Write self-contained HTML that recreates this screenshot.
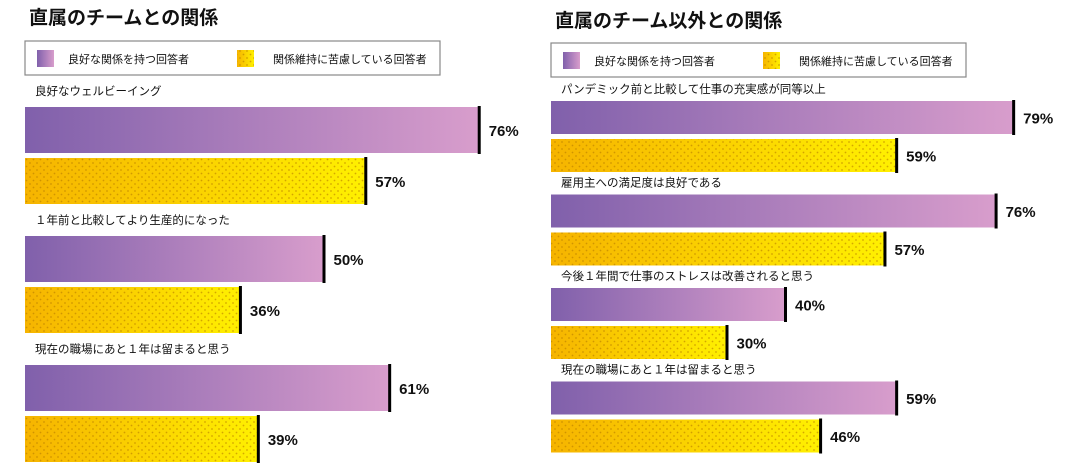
<!DOCTYPE html>
<html><head><meta charset="utf-8">
<style>
html,body{margin:0;padding:0;background:#fff;}
svg{display:block;font-family:"Liberation Sans","Noto Sans CJK JP",sans-serif;}
</style></head>
<body>
<svg id="c" width="1078" height="468" viewBox="0 0 1078 468">
<defs>
<linearGradient id="gp" x1="0" x2="1" y1="0" y2="0"><stop offset="0" stop-color="#8060ab"/><stop offset="1" stop-color="#d89dcc"/></linearGradient>
<linearGradient id="gy" x1="0" x2="1" y1="0" y2="0"><stop offset="0" stop-color="#f6b400"/><stop offset="1" stop-color="#fff000"/></linearGradient>
<pattern id="dots" width="7" height="7" patternUnits="userSpaceOnUse"><circle cx="2" cy="2" r="0.9" fill="#b87c00" opacity="0.6"/><circle cx="5.5" cy="5.5" r="0.9" fill="#b87c00" opacity="0.6"/></pattern>
</defs>
</svg>
<script>
const leftCats = ["良好なウェルビーイング","１年前と比較してより生産的になった","現在の職場にあと１年は留まると思う"];
const leftGood = [76,50,61];
const leftStruggle = [57,36,39];
const rightCats = ["パンデミック前と比較して仕事の充実感が同等以上","雇用主への満足度は良好である","今後１年間で仕事のストレスは改善されると思う","現在の職場にあと１年は留まると思う"];
const rightGood = [79,76,40,59];
const rightStruggle = [59,57,30,46];
const legendLabels = ["良好な関係を持つ回答者","関係維持に苦慮している回答者"];

const svg = document.getElementById('c');
const NS = 'http://www.w3.org/2000/svg';
function mk(tag, attrs, parent){const e=document.createElementNS(NS,tag);for(const k in attrs)e.setAttribute(k,attrs[k]);(parent||svg).appendChild(e);return e;}
function txt(x,y,s,size,weight,name){const t=mk('text',{x:x,y:y,'font-size':size,'font-weight':weight,fill:'#111'});t.textContent=s;


return t;}

function panel(cfg){
  const g = mk('g',{});
  
  
  txt(cfg.x0+4, cfg.titleY, cfg.title, 19, 'bold', 'chart-title');
  const lb = mk('rect',{x:cfg.x0, y:cfg.legY, width:415, height:34, fill:'#fff', stroke:'#888','stroke-width':1.2});
  
  
  const s1 = mk('rect',{x:cfg.x0+12,y:cfg.legY+9,width:17,height:17,fill:'url(#gp)'});
  
  
  txt(cfg.x0+43,cfg.legY+22,legendLabels[0],11,'normal','legend-entry-good');
  const s2 = mk('rect',{x:cfg.x0+212,y:cfg.legY+9,width:17,height:17,fill:'url(#gy)'});
  
  
  mk('rect',{x:cfg.x0+212,y:cfg.legY+9,width:17,height:17,fill:'url(#dots)'});
  txt(cfg.x0+248,cfg.legY+22,legendLabels[1],11,'normal','legend-entry-struggle');
  const xs = v => cfg.x0 + v*cfg.scale;
  cfg.cats.forEach((c,i)=>{
    const top = cfg.firstY + i*cfg.groupH;
    txt(cfg.x0+10, top-cfg.labelOff, c, 11.5, 'normal', 'category-label');
    [[cfg.good[i],'url(#gp)','good'],[cfg.str[i],'url(#gy)','struggle']].forEach((b,j)=>{
      const y = top + j*(cfg.barH+cfg.gap);
      const r = mk('rect',{x:cfg.x0,y:y,width:xs(b[0])-cfg.x0,height:cfg.barH,fill:b[1]});
      
      
      if(j===1) mk('rect',{x:cfg.x0,y:y,width:xs(b[0])-cfg.x0,height:cfg.barH,fill:'url(#dots)'});
      const ln = mk('rect',{x:xs(b[0])-1,y:y-1,width:3,height:cfg.barH+2,fill:'#000'});
      
      
      txt(xs(b[0])+10, y+cfg.barH/2+6, b[0]+'%', 15, 'bold', 'value-label');
    });
  });
}
panel({name:'left-panel',x0:25,title:'直属のチームとの関係',titleY:24,legY:41,cats:leftCats,good:leftGood,str:leftStruggle,scale:5.97,firstY:107,groupH:129,barH:46,gap:5,labelOff:12});
panel({name:'right-panel',x0:551,title:'直属のチーム以外との関係',titleY:27,legY:43,cats:rightCats,good:rightGood,str:rightStruggle,scale:5.85,firstY:101,groupH:93.5,barH:33,gap:5,labelOff:8});
</script>
</body></html>
